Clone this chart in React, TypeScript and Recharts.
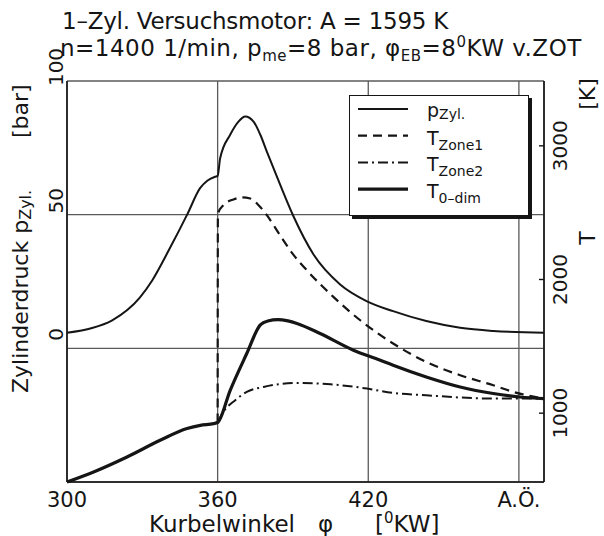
import React from 'react';
import { LineChart, Line, XAxis, YAxis, CartesianGrid, Legend } from 'recharts';

const FONT = '"DejaVu Sans", Verdana, sans-serif';
const INK = '#151515';
const GRID = '#5a5a5a';

// Zylinderdruck [bar] über Kurbelwinkel [°KW]
const pAngle = [300, 310, 318, 324, 329, 334, 341, 348, 353, 356, 359, 360, 361, 365, 368.3, 371, 374.3, 377, 379.6, 384.9, 390.2, 398.2, 408.8, 419.5, 429.9, 443.1, 456.6, 469.8, 490];
const pValue = [5.8, 7.6, 10.5, 14.3, 19, 25.5, 37.5, 50.3, 59.9, 62.8, 64.2, 64.5, 71.1, 79.9, 84.8, 86.7, 84.8, 79.9, 73.6, 61.2, 49.4, 35.1, 23.9, 17.6, 13.9, 10.2, 7.7, 6.5, 5.8];

// Massenmitteltemperatur, 0-dim. Rechnung [K]
const t0Angle = [300, 310.6, 323.9, 337.1, 347.8, 353.1, 358.4, 360, 365, 371.6, 377, 380, 384, 388, 391.6, 400.8, 414.1, 424.8, 429.9, 443.1, 456.6, 469.8, 480.5, 490];
const t0Value = [485, 560, 672, 797, 885, 909, 922, 930, 1171, 1446, 1660, 1690, 1700, 1690, 1671, 1596, 1471, 1396, 1358, 1271, 1196, 1147, 1121, 1109];

// Zone 1 (verbrannt) ab Brennbeginn
const tZone1Angle = [360, 360.1, 362.3, 366.3, 369.7, 373, 376.3, 379.6, 384.9, 390, 395.5, 406.1, 416.8, 429.9, 443.1, 456.6, 469.8, 477.8, 490];
const tZone1Value = [930, 2490, 2556, 2599, 2614, 2606, 2556, 2481, 2330, 2190, 2070, 1870, 1695, 1521, 1383, 1284, 1209, 1159, 1109];

// Zone 2 (unverbrannt)
const tZone2Angle = [360, 362.3, 367, 371.6, 378.3, 391.6, 404.9, 419.5, 429.9, 443.1, 456.6, 469.8, 490];
const tZone2Value = [930, 1009, 1097, 1159, 1196, 1226, 1216, 1184, 1151, 1134, 1117, 1109, 1109];

const xTicks = [300, 360, 420, 480];
const xTickLabels = ['300', '360', '420', 'A.Ö.'];
const pTicks = [0, 50, 100];
const tTicks = [1000, 2000, 3000];

const rows = (angles: number[], values: number[]) =>
  angles.map((phi, i) => ({ phi, v: values[i] }));

const series = [
  { id: 'p', axis: 'p', data: rows(pAngle, pValue), width: 2, dash: undefined, main: 'p', sub: 'Zyl.' },
  { id: 'z1', axis: 'T', data: rows(tZone1Angle, tZone1Value), width: 2.2, dash: '9 6', main: 'T', sub: 'Zone1' },
  { id: 'z2', axis: 'T', data: rows(tZone2Angle, tZone2Value), width: 2, dash: '10 4 2 4', main: 'T', sub: 'Zone2' },
  { id: 't0', axis: 'T', data: rows(t0Angle, t0Value), width: 3.2, dash: undefined, main: 'T', sub: '0–dim' },
];

const XTick = ({ x, y, payload }: any) => {
  const i = xTicks.indexOf(payload.value);
  return (
    <text x={x} y={y + 25} textAnchor="middle" fontSize={21} fontFamily={FONT} fill={INK}>
      {xTickLabels[i]}
    </text>
  );
};

const PTick = ({ x, y, payload }: any) => (
  <text
    x={x - 4}
    y={y - 14}
    transform={`rotate(-90, ${x - 4}, ${y - 14})`}
    textAnchor="middle"
    fontSize={20}
    fontFamily={FONT}
    fill={INK}
  >
    {payload.value}
  </text>
);

const TTick = ({ x, y, payload }: any) => (
  <g>
    <line x1={x - 5} x2={x} y1={y} y2={y} stroke={INK} strokeWidth={1.4} />
    <text
      x={x + 23}
      y={y}
      transform={`rotate(-90, ${x + 23}, ${y})`}
      textAnchor="middle"
      fontSize={20}
      fontFamily={FONT}
      fill={INK}
    >
      {payload.value}
    </text>
  </g>
);

const XTitle = ({ viewBox }: any) => {
  const { x, y } = viewBox;
  const base = y + 50;
  return (
    <text y={base} fontSize={23} fontFamily={FONT} fill={INK}>
      <tspan x={x + 82}>Kurbelwinkel</tspan>
      <tspan x={x + 251}>φ</tspan>
      <tspan x={x + 308}>[</tspan>
      <tspan fontSize={15} dy={-9}>0</tspan>
      <tspan dy={9}>KW]</tspan>
    </text>
  );
};

const PTitle = ({ viewBox }: any) => {
  const { x, y } = viewBox;
  const bx = x + 28;
  const y1 = y + 312;
  const y2 = y + 57;
  return (
    <g fontFamily={FONT} fill={INK}>
      <text x={bx} y={y1} transform={`rotate(-90, ${bx}, ${y1})`} fontSize={22}>
        Zylinderdruck p<tspan fontSize={16} dy={3}>Zyl.</tspan>
      </text>
      <text x={bx} y={y2} transform={`rotate(-90, ${bx}, ${y2})`} fontSize={22}>
        [bar]
      </text>
    </g>
  );
};

const TTitle = ({ viewBox }: any) => {
  const { x, y } = viewBox;
  const bx = x + 51;
  const y1 = y + 157;
  const y2 = y + 13;
  return (
    <g fontFamily={FONT} fill={INK}>
      <text x={bx} y={y1} transform={`rotate(-90, ${bx}, ${y1})`} textAnchor="middle" fontSize={22}>
        T
      </text>
      <text x={bx} y={y2} transform={`rotate(-90, ${bx}, ${y2})`} textAnchor="middle" fontSize={22}>
        [K]
      </text>
    </g>
  );
};

const LegendBox = () => (
  <div
    style={{
      width: 180,
      height: 121,
      boxSizing: 'border-box',
      border: `1.5px solid ${INK}`,
      boxShadow: `3px 3px 0 ${INK}`,
      background: '#fff',
    }}
  >
    <svg width={177} height={118} style={{ display: 'block' }}>
      {series.map((s, i) => {
        const cy = 13 + i * 26.7;
        return (
          <g key={s.id}>
            <line x1={8} x2={58} y1={cy} y2={cy} stroke={INK} strokeWidth={s.width} strokeDasharray={s.dash} />
            <text x={77} y={cy + (s.main === 'p' ? 8 : 9)} fontSize={19} fontFamily={FONT} fill={INK}>
              {s.main}
              <tspan fontSize={14} dy={s.main === 'p' ? 2 : 5}>
                {s.sub}
              </tspan>
            </text>
          </g>
        );
      })}
    </svg>
  </div>
);

export default function App() {
  return (
    <div style={{ position: 'absolute', left: 0, top: 0, width: 604, height: 536, background: '#fff' }}>
      <svg width={604} height={80} style={{ position: 'absolute', left: 0, top: 0 }}>
        <g fontFamily={FONT} fill={INK} fontSize={23}>
          <text x={62} y={29} letterSpacing={-0.25}>1–Zyl. Versuchsmotor: A = 1595 K</text>
          <text x={60} y={56} letterSpacing={0.5}>
            n=1400 1/min, p<tspan fontSize={15} dy={5}>me</tspan>
            <tspan dy={-5}>=8 bar, φ</tspan>
            <tspan fontSize={15} dy={5}>EB</tspan>
            <tspan dy={-5}>=8</tspan>
            <tspan fontSize={15} dy={-9}>0</tspan>
            <tspan dy={9}>KW v.ZOT</tspan>
          </text>
        </g>
      </svg>
      <LineChart width={604} height={536} margin={{ top: 81, right: 0, bottom: 0, left: 0 }}>
        <CartesianGrid xAxisId="phi" yAxisId="p" stroke={GRID} strokeWidth={1.3} />
        <XAxis
          xAxisId="phi"
          type="number"
          dataKey="phi"
          domain={[300, 490]}
          ticks={xTicks}
          interval={0}
          height={54}
          tickSize={0}
          tickMargin={0}
          tickLine={false}
          axisLine={{ stroke: INK, strokeWidth: 1.6 }}
          tick={<XTick />}
          label={{ content: XTitle }}
        />
        <YAxis
          yAxisId="p"
          type="number"
          domain={[-50, 100]}
          ticks={pTicks}
          interval={0}
          width={67}
          tickSize={0}
          tickMargin={0}
          tickLine={false}
          axisLine={{ stroke: INK, strokeWidth: 1.6 }}
          tick={<PTick />}
          label={{ content: PTitle }}
        />
        <YAxis
          yAxisId="T"
          orientation="right"
          type="number"
          domain={[485, 3485]}
          ticks={tTicks}
          interval={0}
          width={60}
          tickSize={0}
          tickMargin={0}
          tickLine={false}
          axisLine={{ stroke: INK, strokeWidth: 1.6 }}
          tick={<TTick />}
          label={{ content: TTitle }}
        />
        <Legend
          layout="horizontal"
          verticalAlign="middle"
          align="center"
          content={<LegendBox />}
          wrapperStyle={{ left: 349, top: 95, width: 184, height: 125 }}
        />
        {series.map((s) => (
          <Line
            key={s.id}
            data={s.data}
            dataKey="v"
            name={s.main + s.sub}
            xAxisId="phi"
            yAxisId={s.axis}
            type="monotone"
            stroke={INK}
            strokeWidth={s.width}
            strokeDasharray={s.dash}
            strokeLinejoin="round"
            dot={false}
            activeDot={false}
            isAnimationActive={false}
          />
        ))}
      </LineChart>
    </div>
  );
}
